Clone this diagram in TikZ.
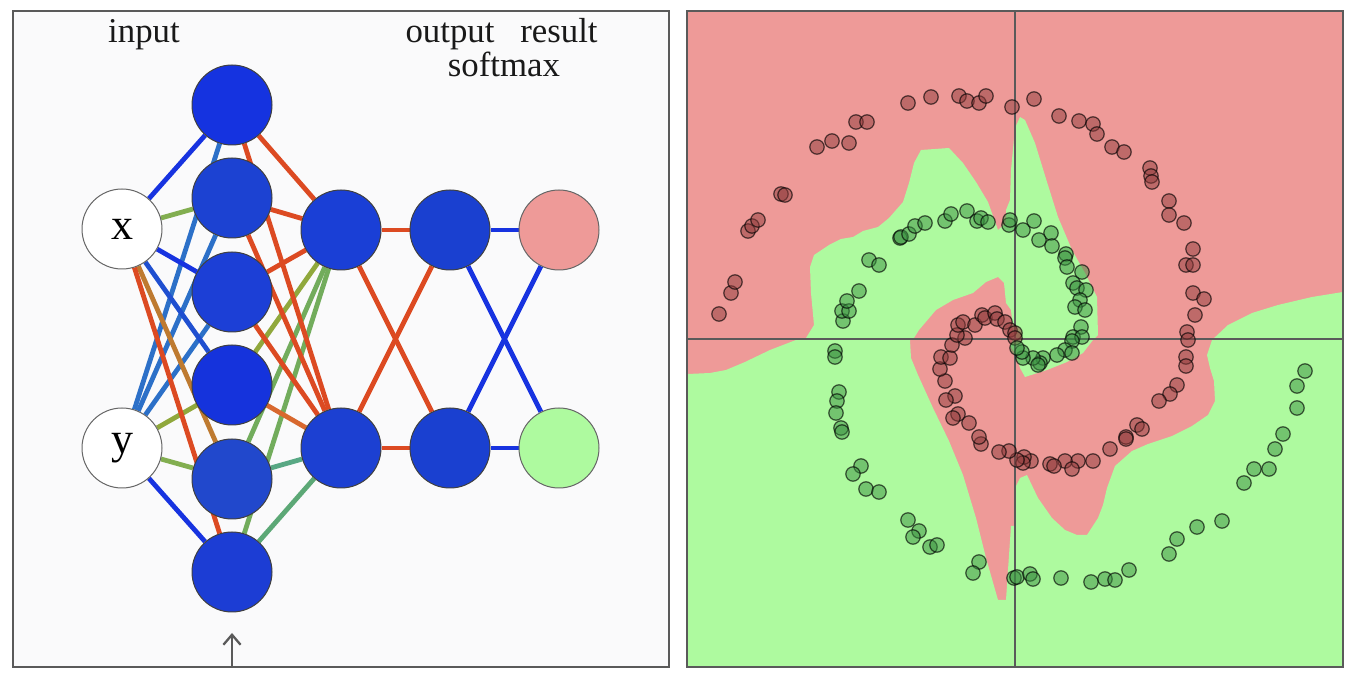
\documentclass[tikz,border=0pt]{standalone}
\usepackage{fontspec}
\setmainfont{Liberation Serif}
\usetikzlibrary{backgrounds, arrows.meta}
\definecolor{panelline}{HTML}{5A5A5A}
\definecolor{panelfill}{HTML}{FAFAFB}
\definecolor{regionred}{HTML}{EE9A98}
\definecolor{regiongreen}{HTML}{AEFA9F}
\definecolor{wireblue}{HTML}{1733E0}
\definecolor{wiremid}{HTML}{1F4FD0}
\definecolor{wiresky}{HTML}{2C70C8}
\definecolor{wirered}{HTML}{DC4A22}
\definecolor{wireamber}{HTML}{BE7A30}
\definecolor{wirerust}{HTML}{D8682E}
\definecolor{wireolive}{HTML}{90A83C}
\definecolor{wiremoss}{HTML}{82AE50}
\definecolor{wiregreen}{HTML}{72AC5C}
\definecolor{wireteal}{HTML}{58A884}
\definecolor{wiresea}{HTML}{5CA876}
\tikzset{
	neuron/.style={circle, draw=black!75, line width=0.5pt, inner sep=0pt, minimum size=40pt},
	inputlabel/.style={neuron, draw=black!60, fill=white, font=\fontsize{22}{24}\selectfont},
	wire/.style={line width=2.4pt},
	heading/.style={anchor=base, inner sep=0pt, font=\fontsize{17.4}{20}\selectfont, text=black!90},
	panel/.style={draw=panelline, line width=1pt},
	reddot/.style={circle, draw=black, draw opacity=0.65, line width=0.6pt, fill={rgb,255:red,144;green,60;blue,60}, fill opacity=0.5, inner sep=0pt, minimum size=7.2pt},
	greendot/.style={circle, draw=black, draw opacity=0.65, line width=0.6pt, fill={rgb,255:red,58;green,144;blue,65}, fill opacity=0.5, inner sep=0pt, minimum size=7.2pt}
}

\begin{document}
\begin{tikzpicture}[x=0.5pt, y=-0.5pt]
	\useasboundingbox (0,0) rectangle (1356,678);

	% network
	\node[inputlabel] (inx) at (122,229) {x};
	\node[inputlabel] (iny) at (122,448) {y};

	\node[neuron, fill={rgb,255:red,21;green,51;blue,224}] (a1) at (232,105) {};
	\node[neuron, fill={rgb,255:red,28;green,66;blue,210}] (a2) at (232,198) {};
	\node[neuron, fill={rgb,255:red,28;green,63;blue,214}] (a3) at (232,292) {};
	\node[neuron, fill={rgb,255:red,21;green,51;blue,220}] (a4) at (232,385) {};
	\node[neuron, fill={rgb,255:red,33;green,72;blue,204}] (a5) at (232,479) {};
	\node[neuron, fill={rgb,255:red,28;green,61;blue,212}] (a6) at (232,572) {};

	\node[neuron, fill={rgb,255:red,26;green,63;blue,214}] (b1) at (341,230) {};
	\node[neuron, fill={rgb,255:red,28;green,64;blue,210}] (b2) at (341,448) {};

	\node[neuron, fill={rgb,255:red,26;green,64;blue,208}] (out1) at (450,230) {};
	\node[neuron, fill={rgb,255:red,26;green,64;blue,208}] (out2) at (450,448) {};

	\node[neuron, draw=black!60, fill=regionred] (res1) at (559,230) {};
	\node[neuron, draw=black!60, fill=regiongreen] (res2) at (559,448) {};

	\begin{scope}[on background layer]
		\fill[white] (0,0) rectangle (1356,678);
		\draw[panel, fill=panelfill] (13,11) rectangle (669,667);

		\draw[wire, wiresky] (iny) -- (a1);
		\draw[wire, wiresky] (iny) -- (a2);
		\draw[wire, wiresky] (iny) -- (a3);
		\draw[wire, wireolive] (iny) -- (a4);
		\draw[wire, wiremoss] (iny) -- (a5);
		\draw[wire, wireblue] (iny) -- (a6);

		\draw[wire, wireblue] (inx) -- (a1);
		\draw[wire, wiremoss] (inx) -- (a2);
		\draw[wire, wireblue] (inx) -- (a3);
		\draw[wire, wiremid] (inx) -- (a4);
		\draw[wire, wireamber] (inx) -- (a5);
		\draw[wire, wirered] (inx) -- (a6);

		\draw[wire, wirered] (a1) -- (b1);
		\draw[wire, wirered] (a2) -- (b1);
		\draw[wire, wirered] (a3) -- (b1);
		\draw[wire, wireolive] (a4) -- (b1);
		\draw[wire, wiregreen] (a5) -- (b1);
		\draw[wire, wiregreen] (a6) -- (b1);

		\draw[wire, wirered] (a1) -- (b2);
		\draw[wire, wirered] (a2) -- (b2);
		\draw[wire, wirered] (a3) -- (b2);
		\draw[wire, wirerust] (a4) -- (b2);
		\draw[wire, wireteal] (a5) -- (b2);
		\draw[wire, wiresea] (a6) -- (b2);

		\draw[wire, wirered] (b1) -- (out1);
		\draw[wire, wirered] (b1) -- (out2);
		\draw[wire, wirered] (b2) -- (out1);
		\draw[wire, wirered] (b2) -- (out2);

		\draw[wire, wireblue] (out1) -- (res1);
		\draw[wire, wireblue] (out1) -- (res2);
		\draw[wire, wireblue] (out2) -- (res1);
		\draw[wire, wireblue] (out2) -- (res2);
	\end{scope}

	\node[heading] (hinput) at (144,43) {input};
	\node[heading] (houtput) at (450,43) {output};
	\node[heading] (hresult) at (559,43) {result};
	\node[heading] (hsoftmax) at (504,77) {softmax};

	\coordinate (arrowfoot) at (232,667);
	\coordinate (arrowtip) at (232,633);
	\draw[-{Straight Barb[length=5pt, width=8.6pt]}, panelline, line width=1.15pt] (arrowfoot) -- (arrowtip);

	% decision regions
	\fill[regionred] (687,11) rectangle (1343,667);
	\fill[regiongreen] (688,374) -- (710,373) -- (726,370) -- (745,362) -- (770,350) -- (796,340) -- (806,338) -- (814,325) -- (811,293) -- (810,267) -- (814,255) -- (829,245) -- (841,239) -- (853,237) -- (863,231) -- (878,227) -- (889,218) -- (903,202) -- (909,183) -- (914,163) -- (921,150) -- (949,148) -- (963,163) -- (976,182) -- (988,202) -- (998,230) -- (1006,223) -- (1006,210) -- (1010,200) -- (1011,170) -- (1015,128) -- (1020,117) -- (1025,120) -- (1035,143) -- (1047,182) -- (1058,217) -- (1072,250) -- (1085,273) -- (1097,297) -- (1098,335) -- (1093,340) -- (1083,353) -- (1067,362) -- (1047,370) -- (1025,377) -- (1020,368) -- (1015,353) -- (1010,346) -- (1014,338) -- (1011,310) -- (1006,303) -- (1004,283) -- (998,277) -- (986,282) -- (973,293) -- (953,300) -- (936,310) -- (919,330) -- (914,338) -- (910,340) -- (911,358) -- (918,375) -- (933,408) -- (949,441) -- (963,475) -- (976,518) -- (986,558) -- (998,600) -- (1006,600) -- (1008,570) -- (1011,526) -- (1015,526) -- (1015,488) -- (1020,478) -- (1027,475) -- (1038,498) -- (1052,518) -- (1065,530) -- (1077,535) -- (1087,535) -- (1098,518) -- (1103,505) -- (1107,488) -- (1115,466) -- (1132,451) -- (1148,444) -- (1172,436) -- (1192,426) -- (1208,415) -- (1215,401) -- (1214,381) -- (1210,368) -- (1207,355) -- (1212,340) -- (1228,325) -- (1252,313) -- (1278,305) -- (1312,297) -- (1343,292) -- (1343,667) -- (687,667) -- (687,374) -- cycle;

	\draw[panelline, line width=1.15pt] (1015,11) -- (1015,667);
	\draw[panelline, line width=1.15pt] (687,339) -- (1343,339);

	% samples
	\foreach \px/\py in {719/314, 731/293, 735/282, 748/231, 752/226, 758/220, 781/194, 785/195, 817/147, 832/141, 849/143, 856/122, 867/122, 908/103, 931/97, 959/96, 967/101, 979/103, 986/96, 1012/107, 1034/99, 1059/116, 1079/121, 1093/124, 1097/134, 1112/147, 1124/152, 1150/168, 1151/176, 1152/182, 1169/201, 1169/215, 1184/223, 1193/249, 1186/265, 1193/265, 1193/293, 1204/299, 1195/315, 1187/332, 1188/340, 1186/357, 1186/366, 1177/385, 1170/394, 1159/401, 1137/425, 1142/429, 1126/437, 1126/439, 1110/449, 1093/461, 1078/461, 1065/461, 1072/469, 1050/464, 1054/466, 1031/461, 1024/457, 1023/463, 1017/460, 1009/451, 999/452, 981/444, 979/437, 969/423, 958/414, 953/418, 955/396, 946/400, 945/381, 940/369, 941/357, 950/358, 952/345, 965/338, 957/335, 958/325, 963/322, 975/325, 982/315, 985/318, 995/313, 997/319, 1005/322, 1010/330, 1015/333, 1015/338}
		\node[reddot] at (\px,\py) {};

	\foreach \px/\py in {843/321, 842/311, 849/311, 847/301, 859/291, 869/260, 879/265, 900/238, 901/237, 909/234, 915/226, 925/223, 945/221, 951/214, 967/211, 977/221, 981/218, 988/222, 1009/225, 1010/220, 1023/230, 1034/221, 1051/233, 1039/240, 1052/246, 1066/254, 1065/258, 1067/267, 1082/272, 1073/283, 1077/288, 1086/290, 1080/300, 1075/307, 1085/310, 1081/327, 1073/337, 1082/337, 1072/341, 1065/350, 1072/353, 1057/355, 1043/358, 1040/363, 1033/358, 1038/365, 1023/358, 1022/352, 1017/348, 835/351, 835/357, 839/392, 837/401, 836/413, 841/428, 842/432, 861/466, 853/474, 866/489, 879/492, 908/520, 919/531, 913/537, 930/547, 937/545, 979/562, 973/573, 1014/578, 1017/577, 1030/574, 1033/579, 1061/578, 1091/582, 1105/579, 1115/580, 1129/570, 1169/554, 1177/539, 1197/527, 1222/521, 1244/483, 1254/469, 1269/469, 1275/449, 1283/434, 1297/408, 1297/386, 1305/371}
		\node[greendot] at (\px,\py) {};

	\draw[panel] (687,11) rectangle (1343,667);
\end{tikzpicture}
\end{document}
